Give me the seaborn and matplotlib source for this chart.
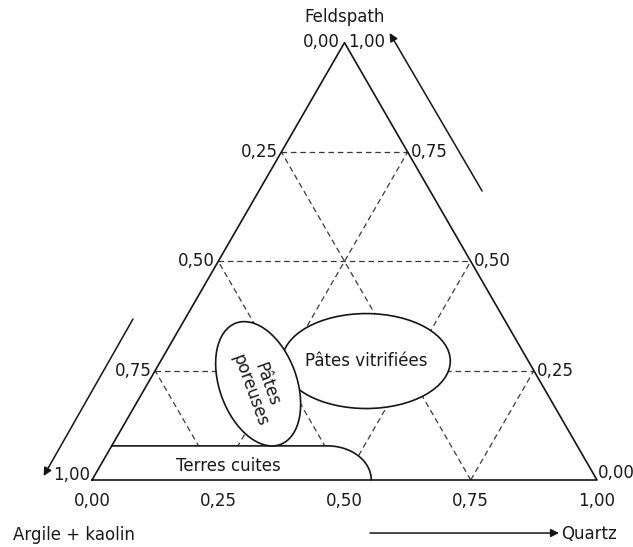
import numpy as np
import pandas as pd
import matplotlib
matplotlib.use("Agg")
import matplotlib.pyplot as plt
from matplotlib.patches import Ellipse, Polygon
import seaborn as sns

# grid levels and tick labels (French decimal comma)
levels = [0.25, 0.50, 0.75]
ticks = [0.0, 0.25, 0.50, 0.75, 1.0]
tick_labels = ["0,00", "0,25", "0,50", "0,75", "1,00"]

# component names
name_top = "Feldspath"
name_left = "Argile + kaolin"
name_right = "Quartz"

# domains, centres given as (quartz, feldspath) fractions
region_names = ["Pâtes vitrifiées", "Pâtes\nporeuses", "Terres cuites"]
vitrif_center = (0.407, 0.272)
poreuses_center = (0.219, 0.220)
terres_top_f = 0.078       # feldspath level of the upper boundary
terres_curve_q = 0.427     # quartz where the boundary starts to bend
terres_base_q = 0.553      # quartz where it reaches the base

SQ3 = np.sqrt(3) / 2


def tern(q, f):
    """(quartz, feldspath) -> cartesian"""
    q = np.asarray(q, dtype=float)
    f = np.asarray(f, dtype=float)
    return q + f / 2, f * SQ3


def grid_segments():
    rows = []
    k = 0
    for lv in levels:
        # feldspath constant, quartz constant, argile constant
        for ends in ([(0, lv), (1 - lv, lv)],
                     [(lv, 0), (lv, 1 - lv)],
                     [(1 - lv, 0), (0, 1 - lv)]):
            for q, f in ends:
                x, y = tern(q, f)
                rows.append({"seg": k, "x": x, "y": y})
            k += 1
    return pd.DataFrame(rows)


sns.set_theme(style="white")
plt.rcParams["font.family"] = ["DejaVu Sans"]

fig = plt.figure(figsize=(6.33, 5.47), dpi=100)
ax = fig.add_axes([0, 0, 1, 1])
ax.set_xlim(-92 / 505, 541 / 505)
ax.set_ylim(-67 / 505, 480 / 505)
ax.axis("off")

TXT = dict(fontsize=12, color="#1a1a1a")
INK = "#151515"

# dashed grid
grid = grid_segments()
sns.lineplot(data=grid, x="x", y="y", units="seg", estimator=None, sort=False,
             color="#3a3a3a", lw=0.9, linestyle=(0, (4.5, 3)), ax=ax, zorder=1,
             legend=False)

# outline
corners = pd.DataFrame({"x": [0, 1, 0.5, 0], "y": [0, 0, SQ3, 0]})
sns.lineplot(data=corners, x="x", y="y", sort=False, estimator=None,
             color=INK, lw=1.2, ax=ax, zorder=4)

# Terres cuites domain: flat top then a quarter-ellipse down to the base
top_y = terres_top_f * SQ3
x_start = terres_curve_q + terres_top_f / 2
rx = tern(terres_base_q, 0)[0] - x_start
t = np.linspace(np.pi / 2, 0, 40)
arc_x = x_start + rx * np.cos(t)
arc_y = top_y * np.sin(t)
bx = np.concatenate([[terres_top_f / 2], arc_x])
by = np.concatenate([[top_y], arc_y])
ax.add_patch(Polygon(np.column_stack([np.r_[bx, 0], np.r_[by, 0]]),
                     closed=True, facecolor="white", edgecolor="none", zorder=2))
ax.plot(bx, by, color=INK, lw=1.2, zorder=3)

# ellipses
vx, vy = tern(*vitrif_center)
ax.add_patch(Ellipse((vx, vy), 0.333, 0.188, angle=0, facecolor="white",
                     edgecolor=INK, lw=1.2, zorder=3))
px, py = tern(*poreuses_center)
ax.add_patch(Ellipse((px, py), 0.153, 0.256, angle=20, facecolor="white",
                     edgecolor=INK, lw=1.2, zorder=3))

ax.text(vx, vy, region_names[0], ha="center", va="center", zorder=5, **TXT)
ax.text(px, py - 0.008, region_names[1], ha="center", va="center", rotation=-70,
        multialignment="center", linespacing=1.0, zorder=5, **TXT)
ax.text(0.2693, 0.028, region_names[2], ha="center", va="center", zorder=5, **TXT)

# side tick labels
for v, lab in zip(ticks, tick_labels):
    # left side: argile, 0 at apex, 1 at bottom-left
    x, y = tern(0, 1 - v)
    if v == 0:
        ax.text(x - 0.009, y + 0.001, lab, ha="right", va="center", **TXT)
    elif v == 1:
        ax.text(x - 0.003, y + 0.010, lab, ha="right", va="center", **TXT)
    else:
        ax.text(x - 0.006, y, lab, ha="right", va="center", **TXT)
    # right side: feldspath, 1 at apex, 0 at bottom-right
    x, y = tern(1 - v, v)
    if v == 1:
        ax.text(x + 0.007, y + 0.001, lab, ha="left", va="center", **TXT)
    elif v == 0:
        ax.text(x + 0.001, y + 0.013, lab, ha="left", va="center", **TXT)
    else:
        ax.text(x + 0.006, y, lab, ha="left", va="center", **TXT)
    # base: quartz
    x, y = tern(v, 0)
    ax.text(x, -0.041, lab, ha="center", va="center", **TXT)

# names and arrows
ax.text(0.501, 0.917, name_top, ha="center", va="center", **TXT)
ax.text(-0.157, -0.109, name_left, ha="left", va="center", **TXT)
ax.text(0.929, -0.106, name_right, ha="left", va="center", **TXT)

arrow = dict(arrowstyle="-|>", color=INK, lw=1.1, mutation_scale=12,
             shrinkA=0, shrinkB=0)
ax.annotate("", xy=(0.5893, 0.8851), xytext=(0.7725, 0.5723), arrowprops=arrow)
ax.annotate("", xy=(-0.0958, 0.0079), xytext=(0.0812, 0.3188), arrowprops=arrow)
ax.annotate("", xy=(0.9248, -0.105), xytext=(0.5505, -0.105), arrowprops=arrow)

fig.savefig("out.png", dpi=100, facecolor="white")
